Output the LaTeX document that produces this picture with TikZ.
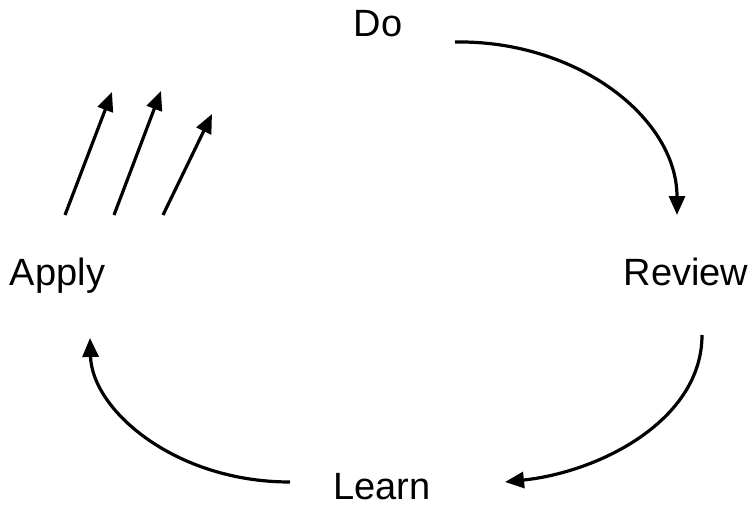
\documentclass[tikz,border=0pt]{standalone}
\usepackage{fontspec}
\setmainfont{Liberation Sans}
\usetikzlibrary{arrows.meta}
\begin{document}
\begin{tikzpicture}[x=1pt,y=-1pt,
  lbl/.style={anchor=base,inner sep=0pt,text depth=0pt,font=\fontsize{38}{44}\selectfont},
  flow/.style={line width=3.2pt,-{Triangle[length=19pt,width=16pt]}}]
\useasboundingbox (0,0) rectangle (750,506);
\node[lbl] (do) at (378,36) {Do};
\node[lbl] (review) at (686,285) {Review};
\node[lbl] (learn) at (382,499) {Learn};
\node[lbl] (apply) at (57.5,285) {Apply};
\coordinate (d1) at (455,42);
\coordinate (d2) at (677,215);
\coordinate (r1) at (702,335);
\coordinate (r2) at (505,482);
\coordinate (l1) at (290,482);
\coordinate (l2) at (90,338);
\coordinate (a1s) at (65,215);
\coordinate (a1e) at (112,92);
\coordinate (a2s) at (114,215);
\coordinate (a2e) at (161,91);
\coordinate (a3s) at (163,215);
\coordinate (a3e) at (212,114);
\draw[flow] (d1) .. controls (577,40) and (677,118) .. (d2);
\draw[flow] (r1) .. controls (702,420) and (600,472) .. (r2);
\draw[flow] (l1) .. controls (175,482) and (92,410) .. (l2);
\draw[flow] (a1s) -- (a1e);
\draw[flow] (a2s) -- (a2e);
\draw[flow] (a3s) -- (a3e);
\end{tikzpicture}
\end{document}
